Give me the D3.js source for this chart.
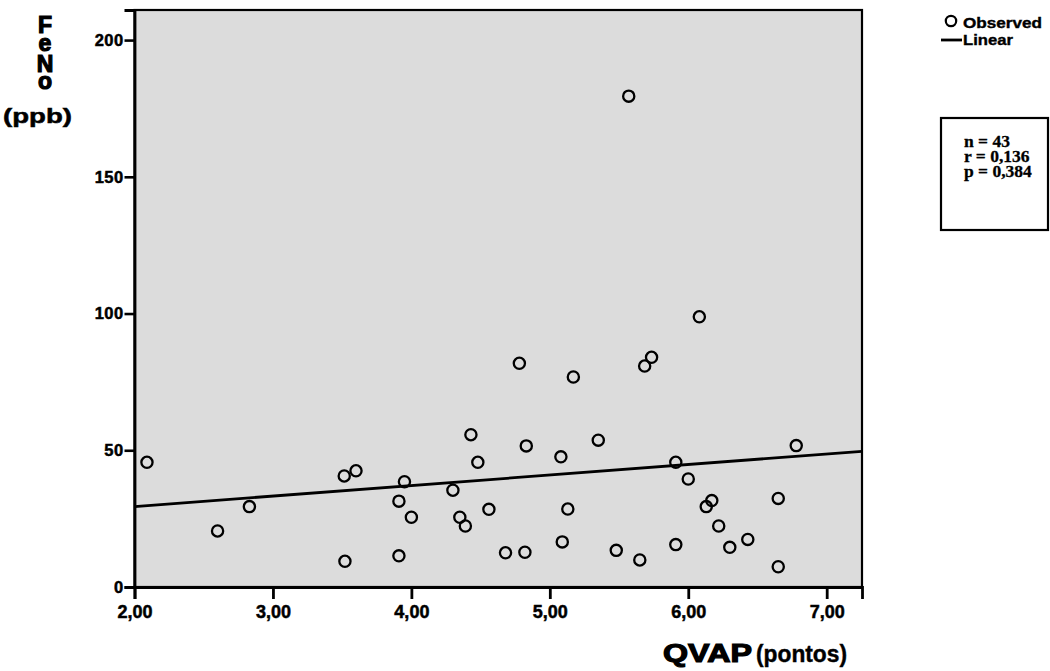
<!DOCTYPE html>
<html><head><meta charset="utf-8">
<script src="https://cdn.jsdelivr.net/npm/d3@7/dist/d3.min.js"></script>
<style>body{margin:0;background:#fff}svg{display:block}</style>
</head><body><svg id="chart" width="1050" height="671"></svg>
<script>
// ---- data ----
const qvap = [2.09,2.60,2.83,3.515,3.60,3.52,3.95,3.91,4.00,3.91,4.30,4.35,4.39,4.43,4.48,4.56,4.68,4.78,4.82,4.83,5.08,5.09,5.13,5.17,5.35,5.48,5.57,5.65,5.685,5.735,5.91,5.91,6.00,6.08,6.13,6.17,6.22,6.30,6.43,6.65,6.65,6.78];
const feno = [45.6,20.5,29.4,40.6,42.5,9.4,38.5,31.4,25.5,11.4,35.4,25.5,22.3,55.7,45.6,28.4,12.5,81.8,12.7,51.6,47.6,16.5,28.5,76.8,53.7,13.4,179.5,9.9,80.8,84.0,45.6,15.5,39.5,98.8,29.4,31.6,22.3,14.5,17.4,32.4,7.4,51.7];
const xTicks = [2,3,4,5,6,7];
const xTickLabels = ["2,00","3,00","4,00","5,00","6,00","7,00"];
const yTicks = [0,50,100,150,200];
const yTickLabels = ["0","50","100","150","200"];
const xDomain = [2, 7.255];
const yDomain = [0, 211];
const fitIntercept = 21.7, fitSlope = 3.85;
const statsLines = ["n = 43","r = 0,136","p = 0,384"];
const legendLabels = ["Observed","Linear"];
const yTitleLetters = ["F","e","N","o"];
const yTitleUnit = "(ppb)";
const xTitleMain = "QVAP", xTitleUnit = "(pontos)";

// ---- layout ----
const L = 134.5, R = 862, T = 10, B = 587;
const svg = d3.select("#chart");
const x = d3.scaleLinear().domain(xDomain).range([L, R]);
const y = d3.scaleLinear().domain(yDomain).range([B, T]);
const sans = "'Liberation Sans', Arial, Helvetica, sans-serif";
const serif = "'Liberation Serif', 'Times New Roman', serif";

svg.append("rect").attr("x", L).attr("y", T).attr("width", R - L).attr("height", B - T)
  .attr("fill", "#dcdcdc");

// regression line
svg.append("clipPath").attr("id", "pc").append("rect")
  .attr("x", L).attr("y", T).attr("width", R - L).attr("height", B - T);
svg.append("line")
  .attr("x1", x(xDomain[0])).attr("y1", y(fitIntercept + fitSlope * xDomain[0]))
  .attr("x2", x(xDomain[1])).attr("y2", y(fitIntercept + fitSlope * xDomain[1]))
  .attr("stroke", "#000").attr("stroke-width", 2.8).attr("clip-path", "url(#pc)");

// points
svg.append("g").selectAll("circle").data(qvap.map((v, i) => [v, feno[i]])).join("circle")
  .attr("cx", d => x(d[0])).attr("cy", d => y(d[1])).attr("r", 5.6)
  .attr("fill", "none").attr("stroke", "#000").attr("stroke-width", 2.3);

// frame
svg.append("rect").attr("x", L).attr("y", T).attr("width", R - L).attr("height", B - T)
  .attr("fill", "none").attr("stroke", "#000").attr("stroke-width", 2.2);

// axes
const yAxis = d3.axisLeft(y).tickValues(yTicks).tickSize(10).tickPadding(1)
  .tickFormat((d, i) => yTickLabels[i]);
const gy = svg.append("g").attr("transform", `translate(${L},0)`).call(yAxis);
gy.select(".domain").attr("stroke-width", 2.8);
gy.selectAll(".tick line").attr("stroke-width", 2.6);
gy.selectAll("text").attr("font-family", sans).attr("font-weight", "bold")
  .attr("font-size", 16.5).attr("letter-spacing", "0.4").attr("fill", "#000")
  .attr("stroke", "#000").attr("stroke-width", 0.5);

const xAxis = d3.axisBottom(x).tickValues(xTicks).tickSize(12).tickPadding(6)
  .tickFormat((d, i) => xTickLabels[i]);
const gx = svg.append("g").attr("transform", `translate(0,${B})`).call(xAxis);
gx.select(".domain").attr("stroke-width", 2.8);
gx.selectAll(".tick line").attr("stroke-width", 2.8);
gx.selectAll("text").attr("font-family", sans).attr("font-weight", "bold")
  .attr("font-size", 18).attr("fill", "#000")
  .attr("stroke", "#000").attr("stroke-width", 0.5);

// y title (one text, stacked letters)
const yBase = [33, 51, 72, 89];
const yt = svg.append("text").attr("text-anchor", "middle")
  .attr("font-family", sans).attr("font-weight", "bold").attr("font-size", 23)
  .attr("stroke", "#000").attr("stroke-width", 1.2).attr("fill", "#000");
yt.selectAll("tspan").data(yTitleLetters).join("tspan")
  .attr("x", 45).attr("y", (d, i) => yBase[i]).text(d => d);
svg.append("text").attr("x", 3).attr("y", 123).attr("textLength", 69)
  .attr("lengthAdjust", "spacingAndGlyphs")
  .attr("font-family", sans).attr("font-weight", "bold").attr("font-size", 21)
  .attr("stroke", "#000").attr("stroke-width", 0.5)
  .attr("fill", "#000").text(yTitleUnit);

// x title
svg.append("text").attr("x", 663).attr("y", 662).attr("textLength", 89)
  .attr("lengthAdjust", "spacingAndGlyphs")
  .attr("font-family", sans).attr("font-weight", "bold").attr("font-size", 26)
  .attr("stroke", "#000").attr("stroke-width", 1.2).attr("fill", "#000").text(xTitleMain);
svg.append("text").attr("x", 756).attr("y", 662).attr("textLength", 91)
  .attr("lengthAdjust", "spacingAndGlyphs")
  .attr("font-family", sans).attr("font-weight", "bold").attr("font-size", 23)
  .attr("stroke", "#000").attr("stroke-width", 0.4)
  .attr("fill", "#000").text(xTitleUnit);

// legend
const lg = svg.append("g");
lg.append("circle").attr("cx", 951).attr("cy", 21).attr("r", 5.2)
  .attr("fill", "none").attr("stroke", "#000").attr("stroke-width", 2.2);
lg.append("line").attr("x1", 941).attr("x2", 962).attr("y1", 40).attr("y2", 40)
  .attr("stroke", "#000").attr("stroke-width", 2.8);
lg.append("text").attr("x", 963).attr("y", 28).attr("textLength", 79)
  .attr("lengthAdjust", "spacingAndGlyphs")
  .attr("font-family", sans).attr("font-weight", "bold").attr("font-size", 15.5)
  .attr("stroke", "#000").attr("stroke-width", 0.4)
  .attr("fill", "#000").text(legendLabels[0]);
lg.append("text").attr("x", 963).attr("y", 45).attr("textLength", 50)
  .attr("lengthAdjust", "spacingAndGlyphs")
  .attr("font-family", sans).attr("font-weight", "bold").attr("font-size", 15.5)
  .attr("stroke", "#000").attr("stroke-width", 0.4)
  .attr("fill", "#000").text(legendLabels[1]);

// stats box (one text, three lines)
svg.append("rect").attr("x", 941).attr("y", 118).attr("width", 107).attr("height", 112)
  .attr("fill", "#fff").attr("stroke", "#000").attr("stroke-width", 2.2);
const st = svg.append("text")
  .attr("font-family", serif).attr("font-weight", "bold").attr("font-size", 17.5)
  .attr("stroke", "#000").attr("stroke-width", 0.3).attr("fill", "#000");
st.selectAll("tspan").data(statsLines).join("tspan")
  .attr("x", 964).attr("y", (d, i) => 147 + i * 15).text(d => d);
</script></body></html>
